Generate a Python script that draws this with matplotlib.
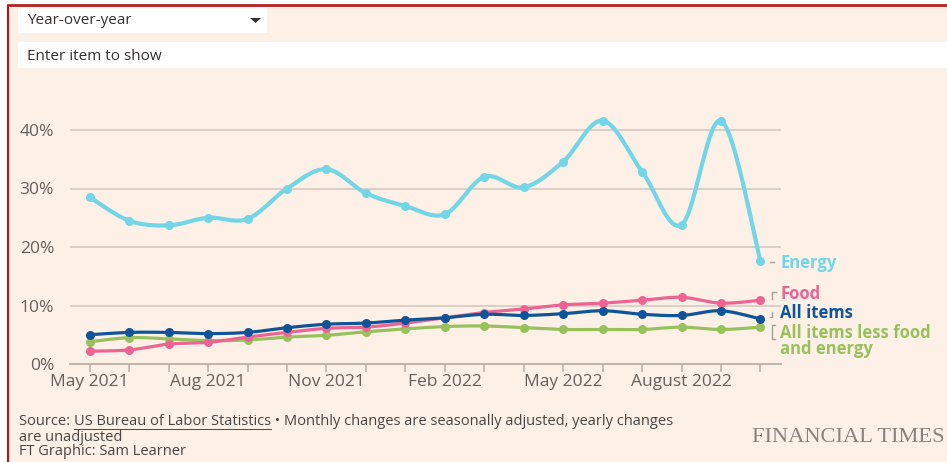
import numpy as np
import matplotlib.pyplot as plt
from matplotlib.patches import Rectangle, Polygon

months = ["May 2021", "Jun 2021", "Jul 2021", "Aug 2021", "Sep 2021", "Oct 2021",
          "Nov 2021", "Dec 2021", "Jan 2022", "Feb 2022", "Mar 2022", "Apr 2022",
          "May 2022", "Jun 2022", "Jul 2022", "August 2022", "Sep 2022", "Oct 2022"]
tick_labels = {0: "May 2021", 3: "Aug 2021", 6: "Nov 2021", 9: "Feb 2022",
               12: "May 2022", 15: "August 2022"}

energy = [28.5, 24.5, 23.7, 25.0, 24.8, 30.0, 33.3, 29.2, 27.0, 25.6,
          32.0, 30.2, 34.6, 41.6, 32.9, 23.8, 41.6, 17.6]
food = [2.2, 2.4, 3.4, 3.7, 4.6, 5.4, 6.1, 6.3, 7.0, 7.9,
        8.8, 9.4, 10.1, 10.4, 10.9, 11.4, 10.4, 10.9]
all_items = [5.0, 5.4, 5.4, 5.2, 5.4, 6.2, 6.8, 7.0, 7.5, 7.9,
             8.5, 8.3, 8.6, 9.1, 8.5, 8.3, 9.1, 7.7]
core = [3.8, 4.5, 4.3, 4.0, 4.1, 4.6, 4.9, 5.5, 6.0, 6.4,
        6.5, 6.2, 5.9, 5.9, 5.9, 6.3, 5.9, 6.3]

BG = "#fdf0e6"
TXT = "#33302e"
W, H = 947, 462

plt.rcParams['font.family'] = ['Open Sans', 'DejaVu Sans']


def px(x, y):
    return x / W, 1 - y / H


def catmull(xs, ys, n=24):
    # smooth curve through the points (like d3 curveCatmullRom)
    xs = np.asarray(xs, float); ys = np.asarray(ys, float)
    P = np.column_stack([xs, ys])
    P = np.vstack([P[0], P, P[-1]])
    out = []
    t = np.linspace(0, 1, n)[:, None]
    for i in range(1, len(P) - 2):
        p0, p1, p2, p3 = P[i - 1], P[i], P[i + 1], P[i + 2]
        seg = 0.5 * ((2 * p1) + (-p0 + p2) * t + (2 * p0 - 5 * p1 + 4 * p2 - p3) * t ** 2
                     + (-p0 + 3 * p1 - 3 * p2 + p3) * t ** 3)
        out.append(seg)
    out = np.vstack(out)
    return out[:, 0], out[:, 1]


fig = plt.figure(figsize=(W / 100, H / 100), dpi=100, facecolor="white")

# page frame
fig.add_artist(Rectangle(px(8, H), (W - 8) / W, (H - 6) / H, transform=fig.transFigure,
                         facecolor=BG, edgecolor="none", zorder=-10))
fig.add_artist(plt.Line2D([8 / W, 8 / W], [0, 1 - 6 / H], color="#a51c1c", lw=1.6,
                          transform=fig.transFigure, zorder=-5))
fig.add_artist(plt.Line2D([8 / W, 1], [1 - 5 / H, 1 - 5 / H], color="#b52020", lw=2.0,
                          transform=fig.transFigure, zorder=-5))

# controls
fig.add_artist(Rectangle(px(18, 33), 249 / W, 25 / H, transform=fig.transFigure,
                         facecolor="white", edgecolor="none", zorder=-5))
fig.text(*px(27, 21), "Year-over-year", fontsize=11, color=TXT, va="center")
fig.add_artist(Polygon([px(250, 18), px(261, 18), px(255.5, 23)], closed=True,
                       transform=fig.transFigure, facecolor=TXT, edgecolor="none", zorder=-4))
fig.add_artist(Rectangle(px(18, 68), (W - 18) / W, 26 / H, transform=fig.transFigure,
                         facecolor="white", edgecolor="none", zorder=-5))
fig.text(*px(27, 56), "Enter item to show", fontsize=11, color=TXT, va="center")

# chart
ax = fig.add_axes([70 / W, 1 - 364 / H, 711 / W, 264 / H], zorder=2)
ax.set_facecolor("none")
x = np.arange(len(months))
ax.set_xlim(-0.5, 17.52)
ax.set_ylim(0, 264 / 5.85)

for g in [10, 20, 30, 40]:
    ax.axhline(g, color="#d2c6bb", lw=1.1, zorder=1)
ax.axhline(0, color="#b8aea5", lw=1.3, zorder=1, clip_on=False)

series = [(core, "#98c15e", 2.3), (food, "#ec6592", 2.3),
          (all_items, "#0f5499", 2.3), (energy, "#72d6e7", 3.0)]
for vals, col, lw in series:
    sx, sy = catmull(x, vals)
    ax.plot(sx, sy, color=col, lw=lw, solid_capstyle="round", zorder=3)
    ax.plot(x, vals, "o", color=col, ms=6.5, mec="none", zorder=4, clip_on=False)

ax.set_yticks([0, 10, 20, 30, 40])
ax.set_yticklabels(["0%", "10%", "20%", "30%", "40%"])
ax.set_xticks(x)
ax.set_xticklabels([tick_labels.get(i, "") for i in x])
ax.tick_params(axis="x", length=6, width=1.1, color="#b8aea5", labelsize=12.5,
               labelcolor="#66605c", pad=1)
ax.tick_params(axis="y", length=0, labelsize=12.5, labelcolor="#66605c", pad=11.5)
for s in ax.spines.values():
    s.set_visible(False)

# direct labels
lab = [("Energy", 263, "#72d6e7"), ("Food", 294, "#ec6592"),
       ("All items", 313, "#0f5499"), ("All items less food\nand energy", 341, "#98c15e")]
for t, yy, col in lab:
    fig.text(*px(780, yy), t, fontsize=12, fontweight="bold", color=col, va="center",
             linespacing=0.85)

gc = "#a8a19a"
fig.add_artist(plt.Line2D([770 / W, 774 / W], [1 - 262 / H] * 2, color=gc, lw=1,
                          transform=fig.transFigure))
fig.add_artist(plt.Line2D([772 / W, 772 / W, 776 / W], [1 - 299 / H, 1 - 292 / H, 1 - 292 / H],
                          color=gc, lw=1, transform=fig.transFigure))
fig.add_artist(plt.Line2D([770 / W, 772 / W, 772 / W], [1 - 317 / H, 1 - 317 / H, 1 - 312 / H],
                          color=gc, lw=1, transform=fig.transFigure))
fig.add_artist(plt.Line2D([775 / W, 772 / W, 772 / W, 775 / W],
                          [1 - 325 / H, 1 - 325 / H, 1 - 339 / H, 1 - 339 / H],
                          color=gc, lw=1, transform=fig.transFigure))

# footer
fs = 10.5
fc = "#4a4542"
t1 = fig.text(*px(19, 421.5), "Source: ", fontsize=fs, color=fc, va="center")
fig.canvas.draw()
r = fig.canvas.get_renderer()
bb = t1.get_window_extent(r)
t2 = fig.text(bb.x1 / W, 1 - 421.5 / H, "US Bureau of Labor Statistics", fontsize=fs,
              color=fc, va="center")
bb2 = t2.get_window_extent(r)
fig.add_artist(plt.Line2D([bb2.x0 / W, bb2.x1 / W], [1 - 428.5 / H] * 2, color=fc, lw=0.7,
                          transform=fig.transFigure))
fig.text(bb2.x1 / W, 1 - 421.5 / H, " \u2022 Monthly changes are seasonally adjusted, yearly changes",
         fontsize=fs, color=fc, va="center")
fig.text(*px(19, 437.5), "are unadjusted", fontsize=fs, color=fc, va="center")
fig.text(*px(19, 451.5), "FT Graphic: Sam Learner", fontsize=fs, color=fc, va="center")
fig.text(*px(752, 437), "FINANCIAL TIMES", fontsize=16.2, color="#8a837d", va="center",
         family="Liberation Serif")

fig.savefig("out.png", dpi=100, facecolor="white")
